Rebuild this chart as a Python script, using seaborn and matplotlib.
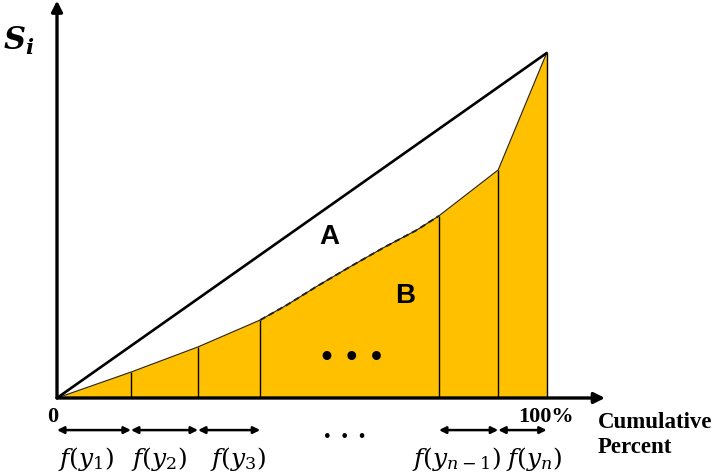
import numpy as np
import pandas as pd
import seaborn as sns
import matplotlib.pyplot as plt

# boundaries of the population groups (cumulative percent) and curve heights there
cum_pct = [0, 15.1, 28.8, 41.5, 78.0, 90.1, 100]
share = [0, 7.5, 14.8, 22.6, 52.8, 66.1, 100]
# extra points of the curved middle part (the elided groups)
mid_pct = [41.5, 47.0, 53.0, 59.8, 66.6, 73.5, 78.0]
mid_share = [22.6, 27.0, 32.3, 38.0, 43.5, 48.7, 52.8]
seg_labels = [r'$f(y_1)$', r'$f(y_2)$', r'$f(y_3)$', r'$f(y_{n-1})$', r'$f(y_n)$']
seg_index = [0, 1, 2, 4, 5]
equality = [0, 100]

gold = '#FFC000'

sns.set_style('white')
plt.rcParams['mathtext.fontset'] = 'dejavuserif'
plt.rcParams['text.color'] = 'black'

fig = plt.figure(figsize=(7.2, 4.74), dpi=100)
ax = fig.add_axes([0, 0, 1, 1])
ax.set_xlim(-11.64, 135.39)
ax.set_ylim(-22.03, 115.36)
ax.axis('off')

# full curve: known boundaries + middle curved part
curve_x = cum_pct[:3] + mid_pct + cum_pct[5:]
curve_y = share[:3] + mid_share + share[5:]
curve = pd.DataFrame({'x': curve_x, 'y': curve_y})

ax.fill_between(curve['x'], 0, curve['y'], color=gold, lw=0, zorder=1)
sns.lineplot(data=curve, x='x', y='y', color='#3a2a00', lw=0.9, sort=False, ax=ax, zorder=3)
mid = pd.DataFrame({'x': mid_pct, 'y': mid_share})
sns.lineplot(data=mid, x='x', y='y', color='#222222', lw=1.4, ls=(0, (3, 2)), sort=False, ax=ax, zorder=4)
ax.vlines(cum_pct[1:], 0, share[1:], color='black', lw=1.0, zorder=2)

diag = pd.DataFrame({'x': equality, 'y': equality})
sns.lineplot(data=diag, x='x', y='y', color='black', lw=1.9, ax=ax, zorder=5)

# axes arrows
ax.annotate('', xy=(0, 115.2), xytext=(0, 0),
            arrowprops=dict(arrowstyle='-|>', color='black', lw=2.4, mutation_scale=16, shrinkA=0, shrinkB=0))
ax.annotate('', xy=(111.9, 0), xytext=(0, 0),
            arrowprops=dict(arrowstyle='-|>', color='black', lw=2.4, mutation_scale=16, shrinkA=0, shrinkB=0))

# group width arrows and labels
label_x = [5.9, 20.8, 36.9, 81.6, 97.4]
for lab, i, lx in zip(seg_labels, seg_index, label_x):
    x0, x1 = cum_pct[i], cum_pct[i + 1]
    ax.annotate('', xy=(x1, -9.3), xytext=(x0, -9.3),
                arrowprops=dict(arrowstyle='<|-|>', color='black', lw=1.8, mutation_scale=10,
                                shrinkA=0, shrinkB=0))
    ax.text(lx, -17.6, lab, fontsize=18, ha='center', va='center')

ax.text(58.8, -9.6, '. . .', fontsize=18, fontweight='bold', ha='center', va='center', family='DejaVu Serif')
ax.text(-0.8, -5.5, '0', fontsize=16, fontweight='bold', ha='center', va='center', family='Liberation Serif')
ax.text(99.9, -5.5, '100%', fontsize=16, fontweight='bold', ha='center', va='center', family='Liberation Serif')
ax.text(110.4, -7.0, 'Cumulative', fontsize=16.5, fontweight='bold', ha='left', va='center', family='Liberation Serif')
ax.text(110.4, -14.4, 'Percent', fontsize=16.5, fontweight='bold', ha='left', va='center', family='Liberation Serif')
ax.text(-7.9, 103.6, r'$\mathbfit{S}_{\mathbfit{i}}$', fontsize=22, ha='center', va='center')

ax.text(55.7, 46.7, 'A', fontsize=20, fontweight='bold', ha='center', va='center', family='Liberation Sans')
ax.text(71.1, 29.6, 'B', fontsize=20, fontweight='bold', ha='center', va='center', family='Liberation Sans')
ax.text(60.2, 11.5, '• • •', fontsize=18, fontweight='bold', ha='center', va='center', family='DejaVu Sans')

fig.savefig('out.png', dpi=100)
